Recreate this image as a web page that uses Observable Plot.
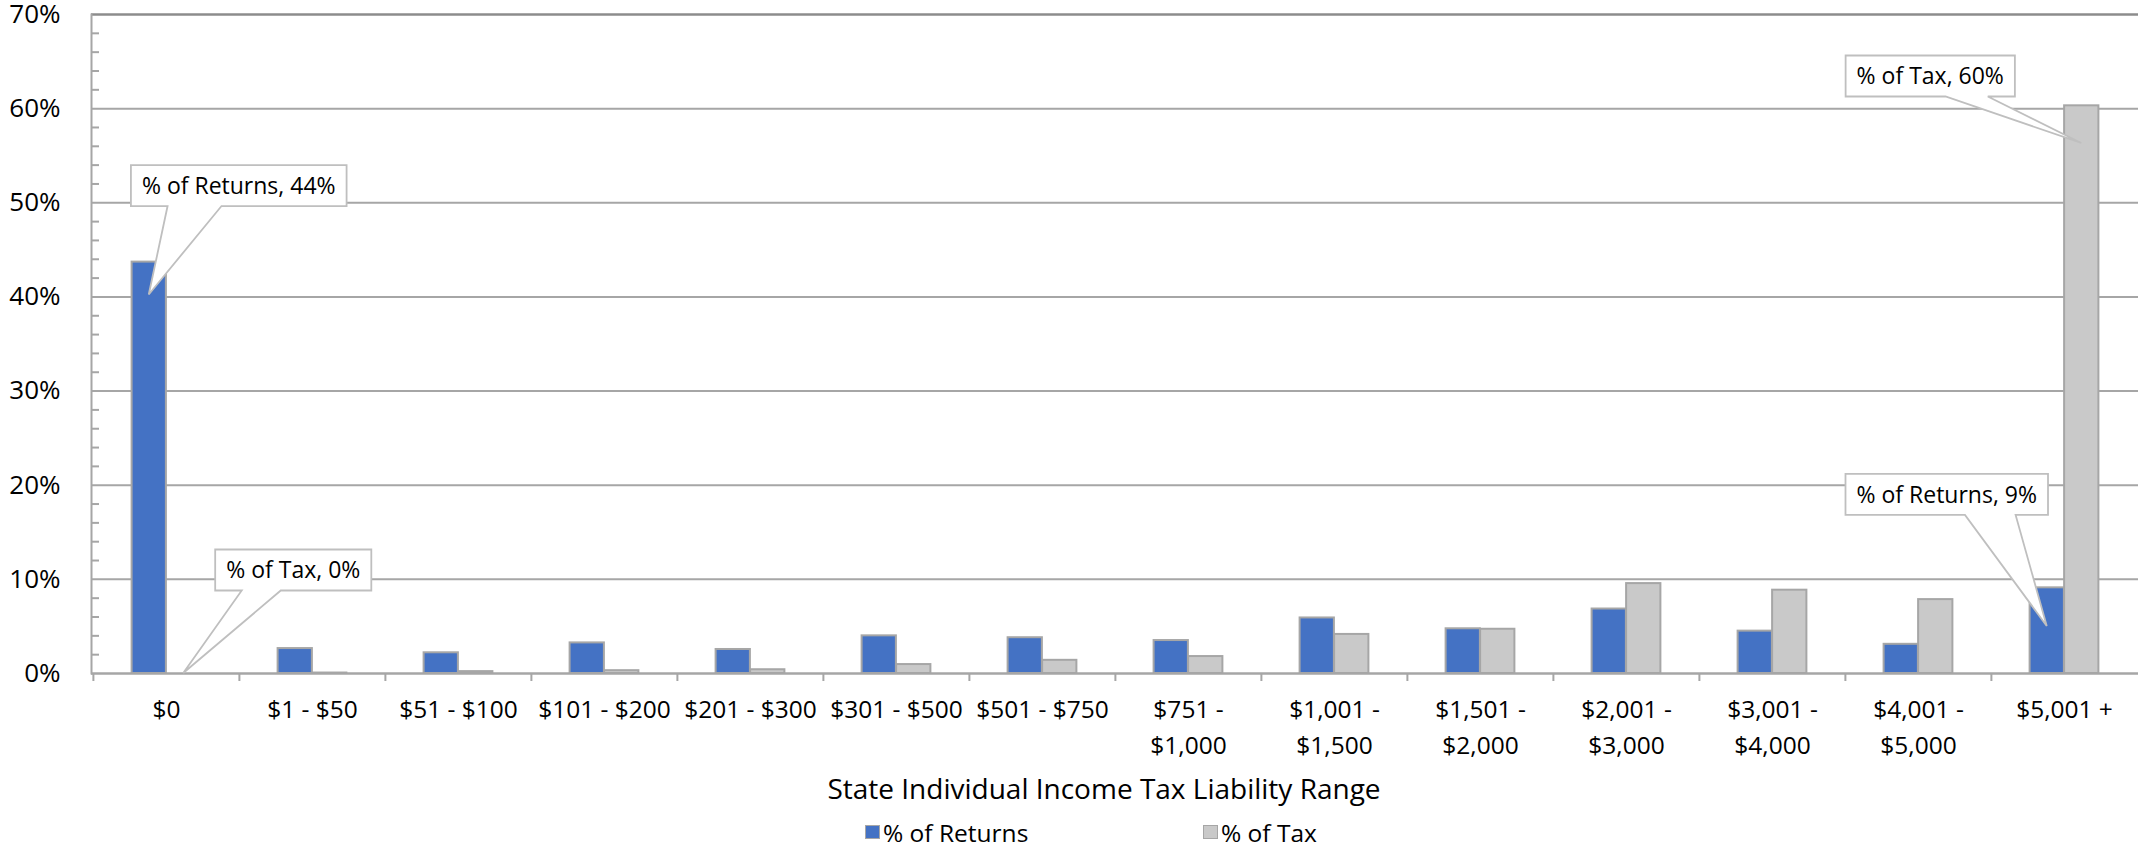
<!DOCTYPE html>
<html>
<head>
<meta charset="utf-8">
<script src="https://cdn.jsdelivr.net/npm/d3@7"></script>
<script src="https://cdn.jsdelivr.net/npm/@observablehq/plot@0.6"></script>
<style>
  html, body { margin: 0; padding: 0; background: #fff; overflow: hidden; width: 2138px; height: 846px; }
  #wrap { position: relative; width: 2138px; height: 846px; font-family: "Open Sans", sans-serif; color: #000; }
  #chart svg { display: block; }
  .xtitle { position: absolute; top: 770px; left: 1104px; transform: translateX(-50%); font-size: 28px; line-height: 36px; white-space: nowrap; }
  .legend-item { position: absolute; top: 814px; height: 36px; display: flex; align-items: center; font-size: 24.5px; white-space: nowrap; }
  .swatch { width: 15px; height: 14px; box-sizing: border-box; border: 1px solid #a6a6a6; margin-right: 3px; }
</style>
</head>
<body>
<div id="wrap">
  <div id="chart"></div>
  <div class="xtitle" id="xtitle"></div>
  <div id="legend"></div>
</div>
<script>
// ---- Data ----
const categories = ["$0", "$1 - $50", "$51 - $100", "$101 - $200", "$201 - $300", "$301 - $500", "$501 - $750",
  "$751 - $1,000", "$1,001 - $1,500", "$1,501 - $2,000", "$2,001 - $3,000", "$3,001 - $4,000", "$4,001 - $5,000", "$5,001 +"];
const tickLabels = ["$0", "$1 - $50", "$51 - $100", "$101 - $200", "$201 - $300", "$301 - $500", "$501 - $750",
  "$751 -\n$1,000", "$1,001 -\n$1,500", "$1,501 -\n$2,000", "$2,001 -\n$3,000", "$3,001 -\n$4,000", "$4,001 -\n$5,000", "$5,001 +"];
const pctReturns = [43.7, 2.65, 2.2, 3.25, 2.55, 4.0, 3.8, 3.5, 5.9, 4.75, 6.85, 4.5, 3.1, 9.1];
const pctTax     = [0, 0.05, 0.2, 0.3, 0.4, 0.95, 1.4, 1.8, 4.15, 4.7, 9.55, 8.85, 7.85, 60.3];
const seriesNames = ["% of Returns", "% of Tax"];
const seriesColors = ["#4472C4", "#C9C9C9"];
const majorTicks = [0, 10, 20, 30, 40, 50, 60, 70];
const minorTicks = [2,4,6,8,12,14,16,18,22,24,26,28,32,34,36,38,42,44,46,48,52,54,56,58,62,64,66,68];
const axisTitle = "State Individual Income Tax Liability Range";
// callouts: which bar, where the pointer ends (value), box offset from the pointer tip (px)
const calloutCategory = ["$0", "$0", "$5,001 +", "$5,001 +"];
const calloutSeries   = [0, 1, 1, 0];
const calloutTip      = [40.2, 0, 56.3, 5.0];
const calloutDx       = [90, 110, -151, -100];
const calloutDy       = [-109, -103, -67, -131.5];

// ---- Layout ----
const W = 2138, H = 762;
const mL = 91, mR = 0, mT = 14, mB = H - 673;
const B = (W - mL - mR) / categories.length;
const barW = 34.5;
const grid = "#a6a6a6";

const rows = categories.map((c, i) => ({category: c, returns: pctReturns[i], tax: pctTax[i]}));

const chart = Plot.plot({
  width: W, height: H,
  marginLeft: mL, marginRight: mR, marginTop: mT, marginBottom: mB,
  style: {fontFamily: '"Open Sans", sans-serif', fontSize: "24px", color: "#000", background: "white", overflow: "visible"},
  x: {domain: categories, padding: 0, label: null},
  y: {domain: [0, 70], label: null},
  marks: [
    Plot.ruleY(majorTicks.filter(d => d > 0 && d < 70), {stroke: grid, strokeWidth: 2}),
    Plot.ruleY([70], {stroke: "#8c8c8c", strokeWidth: 2.5}),
    Plot.barY(rows, {x: "category", y: "returns", fill: seriesColors[0], stroke: grid, strokeWidth: 2,
      insetLeft: B / 2 - barW, insetRight: B / 2}),
    Plot.barY(rows, {x: "category", y: "tax", fill: seriesColors[1], stroke: grid, strokeWidth: 2,
      insetLeft: B / 2, insetRight: B / 2 - barW}),
    Plot.ruleY([0], {stroke: grid, strokeWidth: 2.5}),
    Plot.frame({anchor: "left", stroke: grid, strokeWidth: 2}),
    Plot.axisY({ticks: majorTicks, tickFormat: d => d + "%", tickSize: 0, tickPadding: 31, label: null, fontSize: 26, fill: "#000"}),
    Plot.axisY({ticks: minorTicks, tickSize: -8, tickFormat: () => "", stroke: grid, strokeWidth: 2, label: null}),
    Plot.axisX({tickSize: 0, tickPadding: 19, lineHeight: 1.47, label: null, fontSize: 24.5, fill: "#000",
      tickFormat: d => tickLabels[categories.indexOf(d)]}),
    Plot.axisX({tickSize: 8, tickFormat: () => "", dx: -B / 2, stroke: grid, strokeWidth: 2, label: null})
  ]
});
document.getElementById("chart").appendChild(chart);

// ---- Callouts (positioned through the plot's own scales) ----
const xs = chart.scale("x"), ys = chart.scale("y");
const svg = d3.select(chart.tagName.toLowerCase() === "svg" ? chart : chart.querySelector("svg"));
const layer = svg.append("g").attr("font-family", '"Open Sans", sans-serif').attr("font-size", 23);
calloutCategory.forEach((cat, k) => {
  const s = calloutSeries[k];
  const value = s === 0 ? pctReturns[categories.indexOf(cat)] : pctTax[categories.indexOf(cat)];
  const label = `${seriesNames[s]}, ${Math.round(value)}%`;
  const tipX = xs.apply(cat) + xs.bandwidth / 2 + (s === 0 ? -barW / 2 : barW / 2);
  const tipY = ys.apply(calloutTip[k]);
  const cx = tipX + calloutDx[k], cy = tipY + calloutDy[k];
  const g = layer.append("g");
  const path = g.append("path");
  const text = g.append("text").attr("x", cx).attr("y", cy).attr("dy", "0.36em")
    .attr("text-anchor", "middle").attr("fill", "#000").text(label);
  const tw = text.node().getComputedTextLength();
  const w = tw + 22, h = 41;
  const x0 = cx - w / 2, x1 = cx + w / 2, y0 = cy - h / 2, y1 = cy + h / 2;
  const fr = tipX < cx ? [0.17, 0.42] : [0.59, 0.84];
  const b1 = x0 + fr[0] * w, b2 = x0 + fr[1] * w;
  path.attr("d", `M${x0},${y0}H${x1}V${y1}H${b2}L${tipX},${tipY}L${b1},${y1}H${x0}Z`)
    .attr("fill", "white").attr("stroke", "#bfbfbf").attr("stroke-width", 1.8).attr("stroke-linejoin", "miter");
});

// ---- Axis title & legend ----
document.getElementById("xtitle").textContent = axisTitle;
const legendLeft = [865, 1203];
const legend = document.getElementById("legend");
seriesNames.forEach((name, i) => {
  const item = document.createElement("div");
  item.className = "legend-item";
  item.style.left = legendLeft[i] + "px";
  const sw = document.createElement("div");
  sw.className = "swatch";
  sw.style.background = seriesColors[i];
  const tx = document.createElement("span");
  tx.textContent = name;
  item.appendChild(sw); item.appendChild(tx);
  legend.appendChild(item);
});
</script>
</body>
</html>
